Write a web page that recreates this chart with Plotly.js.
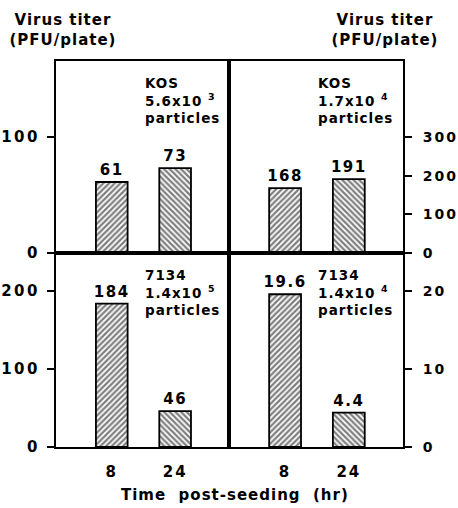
<!DOCTYPE html>
<html><head><meta charset="utf-8">
<script src="https://cdn.plot.ly/plotly-3.0.1.min.js"></script>
<style>
html,body{margin:0;padding:0;background:#fff}
#chart{width:458px;height:508px}
#chart text{letter-spacing:1px}
#chart text.bartext{letter-spacing:1.5px}
#chart g.ytick text, #chart g.y3tick text{letter-spacing:2.5px}
#chart g.y2tick text, #chart g.y4tick text{letter-spacing:2px}
#chart g.x3tick text, #chart g.x4tick text{letter-spacing:2px}
</style>
</head><body><div id="chart"></div><script>
// Data
const times = ['8', '24'];
const kosLow = [61, 73];      // KOS 5.6x10^3 particles
const kosHigh = [168, 191];   // KOS 1.7x10^4 particles
const mutHigh = [184, 46];    // 7134 1.4x10^5 particles
const mutLow = [19.6, 4.4];   // 7134 1.4x10^4 particles
const panelText = [
  'KOS<br>5.6x10 <sup>3</sup><br>particles',
  'KOS<br>1.7x10 <sup>4</sup><br>particles',
  '7134<br>1.4x10 <sup>5</sup><br>particles',
  '7134<br>1.4x10 <sup>4</sup><br>particles'
];
const yTitle = 'Virus titer<br>(PFU/plate)';
const xTitle = 'Time  post-seeding  (hr)';

const FONT = 'DejaVu Sans, Liberation Sans, Arial';
const bold = (size) => ({family: FONT, size: size, color: '#000', weight: 'bold'});

function barTrace(vals, xa, ya) {
  return {
    type: 'bar', x: times, y: vals, xaxis: xa, yaxis: ya,
    width: 0.5,
    text: vals.map(v => String(v)), textposition: 'outside',
    textfont: bold(15), cliponaxis: false, constraintext: 'none',
    marker: {
      color: '#fff',
      line: {color: '#000', width: 1.8},
      pattern: {shape: ['/', '\\'], size: 4, solidity: 0.55, fgcolor: '#000', bgcolor: '#fff', fillmode: 'overlay'}
    },
    hoverinfo: 'none', showlegend: false
  };
}

const data = [
  barTrace(kosLow, 'x', 'y'),
  barTrace(kosHigh, 'x2', 'y2'),
  barTrace(mutHigh, 'x3', 'y3'),
  barTrace(mutLow, 'x4', 'y4')
];

const xL = [0.1223, 0.5], xR = [0.5, 0.8799];
const yT = [0.502, 0.8799], yB = [0.1201, 0.502];
const xRange = [-0.88, 1.85];

function xax(domain, anchor, showLabels) {
  return {
    domain: domain, anchor: anchor, type: 'category', range: xRange,
    showline: true, linewidth: 2, linecolor: '#000', mirror: true,
    showgrid: false, zeroline: false, ticks: '',
    showticklabels: showLabels, tickfont: bold(15), ticklabelstandoff: 10,
    fixedrange: true
  };
}
function yax(domain, anchor, side, range, tickvals) {
  const left = side === 'left';
  return {
    domain: domain, anchor: anchor, side: side, range: range,
    tickvals: tickvals, ticktext: tickvals.map(String),
    showline: true, linewidth: 2, linecolor: '#000', mirror: true,
    showgrid: false, zeroline: false,
    ticks: 'outside', ticklen: 7, tickwidth: 2, tickcolor: '#000',
    tickfont: bold(left ? 15 : 14), ticklabelstandoff: left ? 4 : 8,
    fixedrange: true
  };
}

const annots = [];
const annPos = [
  ['x domain', 'y domain', 0.5],
  ['x2 domain', 'y2 domain', 0.5],
  ['x3 domain', 'y3 domain', 0.5],
  ['x4 domain', 'y4 domain', 0.5]
];
annPos.forEach((p, i) => {
  annots.push({
    xref: p[0], yref: p[1], x: p[2], y: 0.94, xanchor: 'left', yanchor: 'top',
    text: panelText[i], showarrow: false, align: 'left', font: bold(13.5)
  });
});
annots.push({xref: 'paper', yref: 'paper', x: 63 / 458, y: 1 - 9 / 508, xanchor: 'center', yanchor: 'top',
  text: yTitle, showarrow: false, align: 'center', font: bold(15)});
annots.push({xref: 'paper', yref: 'paper', x: 385 / 458, y: 1 - 9 / 508, xanchor: 'center', yanchor: 'top',
  text: yTitle, showarrow: false, align: 'center', font: bold(15)});
annots.push({xref: 'paper', yref: 'paper', x: 235 / 458, y: 1 - 495 / 508, xanchor: 'center', yanchor: 'middle',
  text: xTitle, showarrow: false, font: bold(15)});

const layout = {
  width: 458, height: 508,
  margin: {l: 0, r: 0, t: 0, b: 0},
  paper_bgcolor: '#fff', plot_bgcolor: '#fff',
  showlegend: false, bargap: 0.5,
  xaxis: xax(xL, 'y', false),
  xaxis2: xax(xR, 'y2', false),
  xaxis3: xax(xL, 'y3', true),
  xaxis4: xax(xR, 'y4', true),
  yaxis: yax(yT, 'x', 'left', [0, 165], [0, 100]),
  yaxis2: yax(yT, 'x2', 'right', [0, 497], [0, 100, 200, 300]),
  yaxis3: yax(yB, 'x3', 'left', [0, 249], [0, 100, 200]),
  yaxis4: yax(yB, 'x4', 'right', [0, 24.9], [0, 10, 20]),
  annotations: annots
};

Plotly.newPlot('chart', data, layout, {staticPlot: true, displayModeBar: false});
</script></body></html>
